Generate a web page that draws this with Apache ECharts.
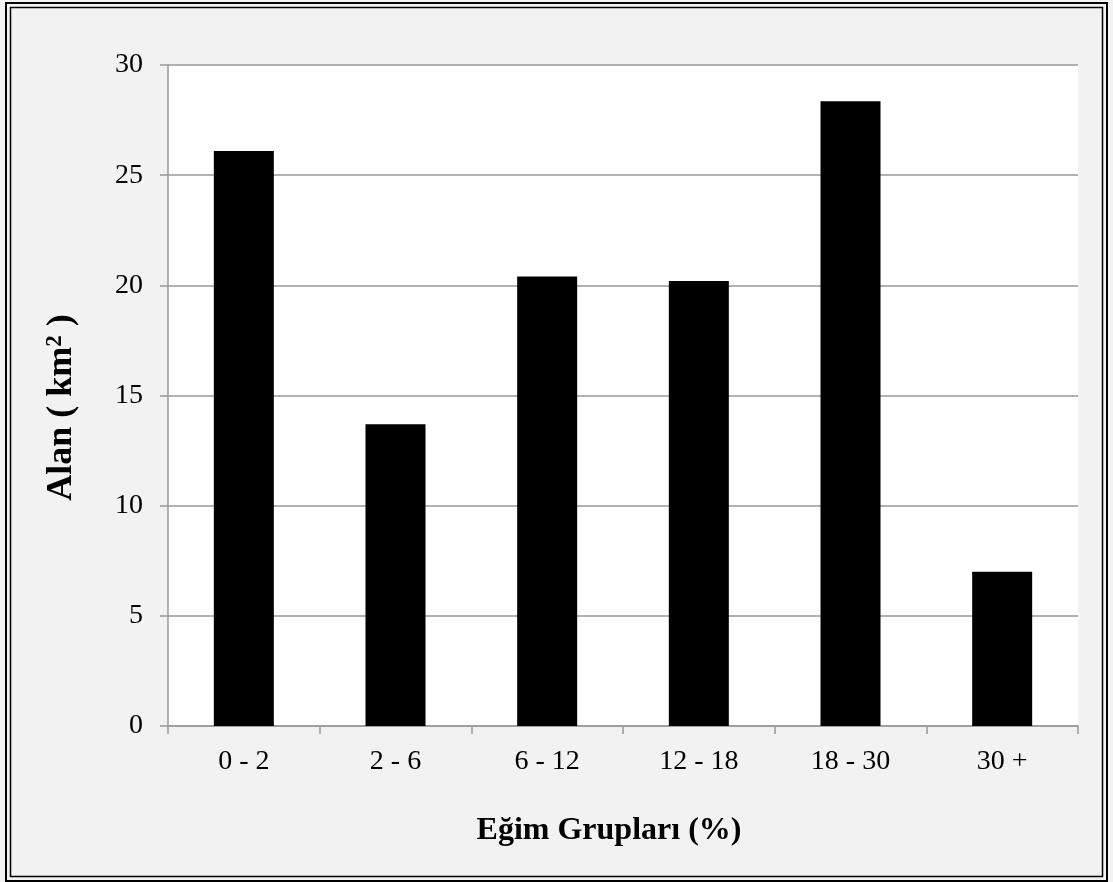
<!DOCTYPE html>
<html><head><meta charset="utf-8">
<script src="https://cdn.jsdelivr.net/npm/echarts@6/dist/echarts.min.js"></script>
<style>html,body{margin:0;padding:0;background:#f2f2f2}#c{width:1113px;height:882px}</style>
</head><body><div id="c"></div>
<script>
const categories = ['0 - 2', '2 - 6', '6 - 12', '12 - 18', '18 - 30', '30 +'];
const values = [26.1, 13.7, 20.4, 20.2, 28.35, 7.0];
const yTicks = [0, 5, 10, 15, 20, 25, 30];
const chart = echarts.init(document.getElementById('c'));
const font = '"Liberation Serif", "Times New Roman", serif';
chart.setOption({
  backgroundColor: '#f2f2f2',
  animation: false,
  graphic: [
    {type:'rect', shape:{x:6, y:3, width:1101, height:878}, style:{fill:'none', stroke:'#000', lineWidth:2}},
    {type:'rect', shape:{x:10.5, y:7.5, width:1092, height:869}, style:{fill:'none', stroke:'#000', lineWidth:1.5}}
  ],
  grid: {left:168, right:35, top:65, bottom:156, show:true, backgroundColor:'#ffffff', borderWidth:0},
  xAxis: {
    type:'category', data:categories,
    axisLine:{lineStyle:{color:'#999', width:1.5}},
    axisTick:{show:true, length:8, alignWithLabel:false, lineStyle:{color:'#999', width:1.5}},
    axisLabel:{color:'#000', fontFamily:font, fontSize:28, margin:22},
    name:'Eğim Grupları (%)', nameLocation:'middle', nameGap:89, nameMoveOverlap:false,
    nameTextStyle:{color:'#000', fontFamily:font, fontSize:32, fontWeight:'bold', padding:[0,28,0,0]}
  },
  yAxis: {
    type:'value', min:0, max:30, interval:5,
    axisLine:{show:true, lineStyle:{color:'#999', width:1.5}},
    axisTick:{show:true, length:8, lineStyle:{color:'#999', width:1.5}},
    splitLine:{show:true, lineStyle:{color:'#999', width:1.5}},
    axisLabel:{color:'#000', fontFamily:font, fontSize:28, margin:25,
      formatter: v => yTicks.includes(v) ? String(v) : ''},
    name:'{a|Alan ( km}{s|2}{a| )}', nameLocation:'middle', nameGap:88, nameRotate:90, nameMoveOverlap:false,
    nameTextStyle:{color:'#000', fontFamily:font, fontSize:36, fontWeight:'bold', padding:[0,24,0,0],
      rich:{
        a:{fontFamily:font, fontSize:36, fontWeight:'bold', color:'#000'},
        s:{fontFamily:font, fontSize:23, fontWeight:'bold', color:'#000', verticalAlign:'top', padding:[0,0,12,0]}
      }}
  },
  series: [{type:'bar', data:values, barWidth:60, itemStyle:{color:'#000'}}]
});
</script></body></html>
